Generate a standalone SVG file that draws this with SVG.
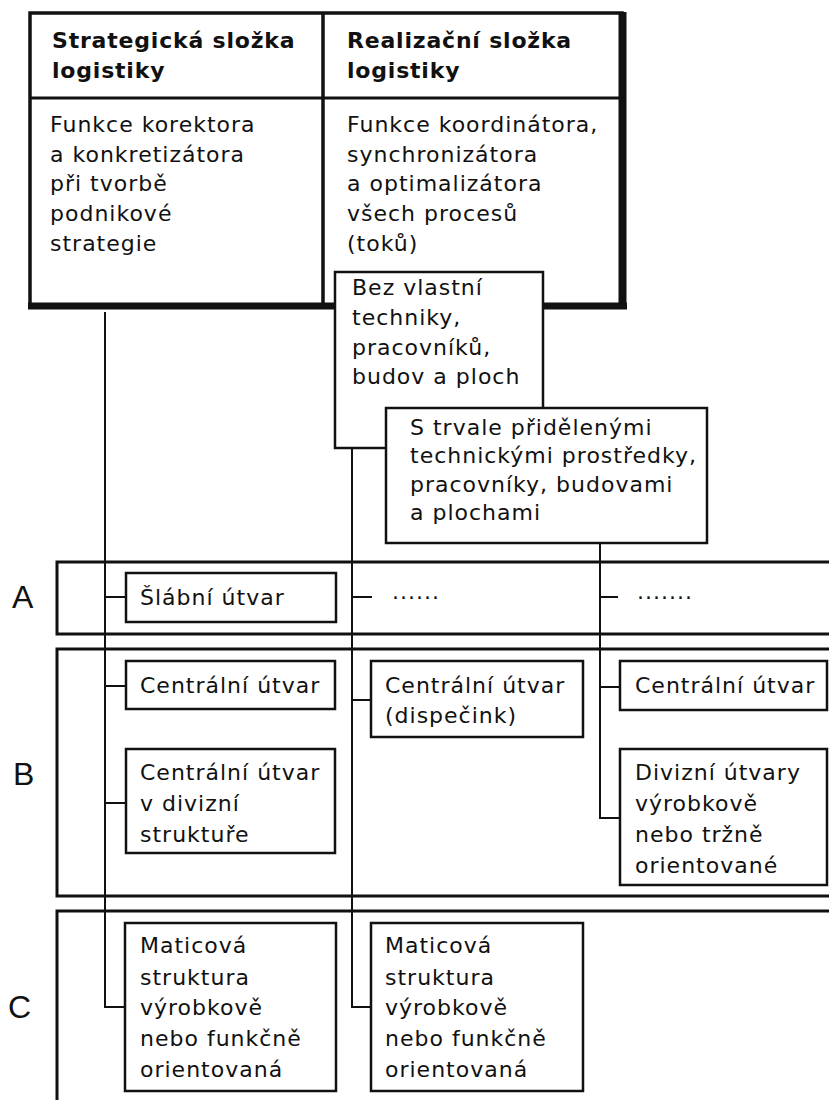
<svg xmlns="http://www.w3.org/2000/svg" width="829" height="1100" viewBox="0 0 829 1100">
<style>
 .t{font-family:"DejaVu Sans",sans-serif;font-size:22px;letter-spacing:1px;fill:#111}
 .h{font-family:"DejaVu Sans",sans-serif;font-size:22px;font-weight:bold;letter-spacing:0.8px;fill:#111}
 .lbl{font-family:"Liberation Sans",sans-serif;font-size:32px;fill:#111}
 .box{fill:#fff;stroke:#111;stroke-width:2.5}
 .band{fill:none;stroke:#111;stroke-width:3}
 .c{fill:none;stroke:#111;stroke-width:2}
 .k{stroke:#111;fill:none}
</style>
<rect width="829" height="1100" fill="#fff"/>

<g id="table">
 <rect x="30" y="13" width="592" height="292" fill="#fff" stroke="#111" stroke-width="3.5"/>
 <line class="k" x1="622.5" y1="12" x2="622.5" y2="309" stroke-width="8"/>
 <line class="k" x1="28" y1="306" x2="627" y2="306" stroke-width="7"/>
 <line class="k" x1="30" y1="98" x2="622" y2="98" stroke-width="3"/>
 <line class="k" x1="323" y1="13" x2="323" y2="305" stroke-width="3.5"/>
 <text class="h" x="52" y="48">Strategická složka</text>
 <text class="h" x="52" y="78">logistiky</text>
 <text class="h" x="347" y="48">Realizační složka</text>
 <text class="h" x="347" y="78">logistiky</text>
 <text class="t" x="50" y="132">Funkce korektora</text>
 <text class="t" x="50" y="162">a konkretizátora</text>
 <text class="t" x="50" y="191">při tvorbě</text>
 <text class="t" x="50" y="221">podnikové</text>
 <text class="t" x="50" y="251">strategie</text>
 <text class="t" x="347" y="132">Funkce koordinátora,</text>
 <text class="t" x="347" y="162">synchronizátora</text>
 <text class="t" x="347" y="191">a optimalizátora</text>
 <text class="t" x="347" y="221">všech procesů</text>
 <text class="t" x="347" y="251">(toků)</text>
</g>

<g id="bands">
 <rect class="band" x="57" y="562" width="800" height="72"/>
 <rect class="band" x="57" y="649" width="800" height="247"/>
 <rect class="band" x="57" y="911" width="800" height="250"/>
 <text class="lbl" x="12" y="608">A</text>
 <text class="lbl" x="13" y="785">B</text>
 <text class="lbl" x="8" y="1018">C</text>
</g>

<g id="connectors">
 <polyline class="c" points="105,312 105,1007 126,1007"/>
 <polyline class="c" points="352,449 352,1007 371,1007"/>
 <polyline class="c" points="600,543 600,818 620,818"/>
 <line class="c" x1="105" y1="597" x2="126" y2="597"/>
 <line class="c" x1="105" y1="686" x2="126" y2="686"/>
 <line class="c" x1="105" y1="803" x2="126" y2="803"/>
 <line class="c" x1="352" y1="597" x2="372" y2="597" stroke-width="3"/>
 <line class="c" x1="352" y1="700" x2="371" y2="700"/>
 <line class="c" x1="600" y1="597" x2="618" y2="597" stroke-width="3"/>
 <line class="c" x1="600" y1="687" x2="620" y2="687"/>
 <text class="t" x="392" y="599" style="letter-spacing:1px">......</text>
 <text class="t" x="637" y="599" style="letter-spacing:1px">.......</text>
</g>

<g id="bez">
 <rect class="box" x="335" y="272" width="208" height="176"/>
 <text class="t" x="352" y="295">Bez vlastní</text>
 <text class="t" x="352" y="325">techniky,</text>
 <text class="t" x="352" y="355">pracovníků,</text>
 <text class="t" x="352" y="384">budov a ploch</text>
</g>

<g id="strvale">
 <rect class="box" x="386" y="408" width="321" height="135"/>
 <text class="t" x="410" y="435">S trvale přidělenými</text>
 <text class="t" x="410" y="463">technickými prostředky,</text>
 <text class="t" x="410" y="492">pracovníky, budovami</text>
 <text class="t" x="410" y="520">a plochami</text>
</g>

<g id="stab">
 <rect class="box" x="126" y="573" width="210" height="49"/>
 <text class="t" x="140" y="605">Šlábní útvar</text>
</g>

<g id="central1">
 <rect class="box" x="126" y="661" width="209" height="48"/>
 <text class="t" x="140" y="693">Centrální útvar</text>
</g>

<g id="central-div">
 <rect class="box" x="126" y="749" width="209" height="104"/>
 <text class="t" x="140" y="780">Centrální útvar</text>
 <text class="t" x="140" y="811">v divizní</text>
 <text class="t" x="140" y="842">struktuře</text>
</g>

<g id="dispecink">
 <rect class="box" x="371" y="661" width="212" height="76"/>
 <text class="t" x="385" y="693">Centrální útvar</text>
 <text class="t" x="385" y="723">(dispečink)</text>
</g>

<g id="central3">
 <rect class="box" x="620" y="661" width="207" height="49"/>
 <text class="t" x="635" y="693">Centrální útvar</text>
</g>

<g id="divizni">
 <rect class="box" x="620" y="749" width="207" height="136"/>
 <text class="t" x="635" y="780">Divizní útvary</text>
 <text class="t" x="635" y="811">výrobkově</text>
 <text class="t" x="635" y="842">nebo tržně</text>
 <text class="t" x="635" y="873">orientované</text>
</g>

<g id="matice1">
 <rect class="box" x="125" y="923" width="211" height="168"/>
 <text class="t" x="140" y="953">Maticová</text>
 <text class="t" x="140" y="985">struktura</text>
 <text class="t" x="140" y="1015">výrobkově</text>
 <text class="t" x="140" y="1046">nebo funkčně</text>
 <text class="t" x="140" y="1077">orientovaná</text>
</g>

<g id="matice2">
 <rect class="box" x="371" y="923" width="212" height="168"/>
 <text class="t" x="385" y="953">Maticová</text>
 <text class="t" x="385" y="985">struktura</text>
 <text class="t" x="385" y="1015">výrobkově</text>
 <text class="t" x="385" y="1046">nebo funkčně</text>
 <text class="t" x="385" y="1077">orientovaná</text>
</g>
</svg>
